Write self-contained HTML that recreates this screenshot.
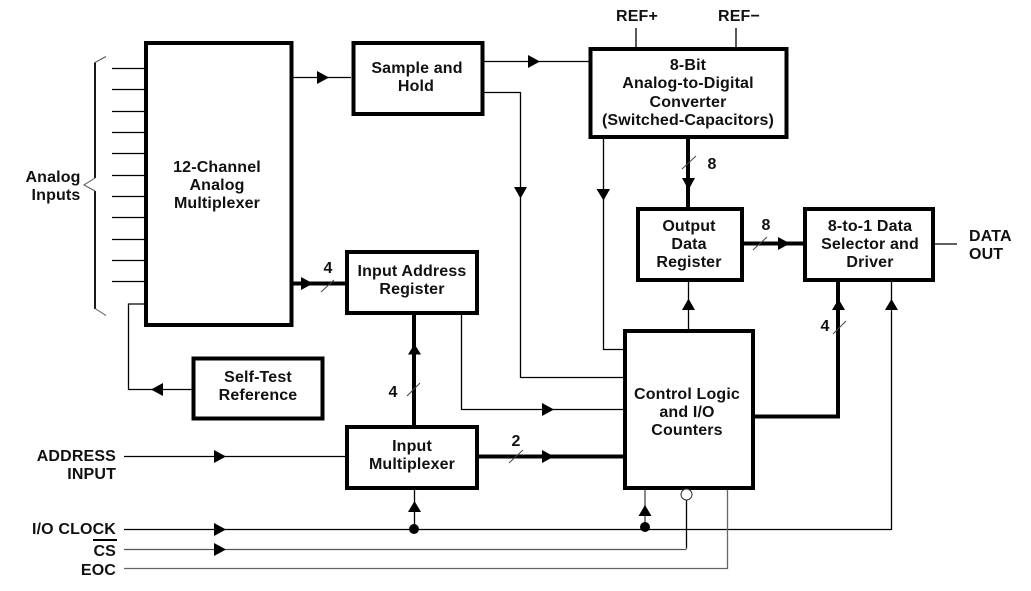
<!DOCTYPE html>
<html>
<head>
<meta charset="utf-8">
<style>
html,body{margin:0;padding:0;background:#fff}
svg{display:block}
text{font-family:"Liberation Sans",Arial,sans-serif;font-weight:bold;font-size:16px;fill:#111;letter-spacing:.15px}
.m{text-anchor:middle}
.e{text-anchor:end}
</style>
</head>
<body>
<svg width="1031" height="591" viewBox="0 0 1031 591" xmlns="http://www.w3.org/2000/svg">
<text x="231" y="-4" class="m">g</text>
<g fill="none" stroke="#000" stroke-width="1.3">
<path d="M112 68.500H146M112 89.500H146M112 111.500H146M112 132.500H146M112 153.500H146M112 175.500H146M112 196.500H146M112 217.500H146M112 239.500H146M112 260.500H146M112 281.500H146"/>
<path d="M95 62.500V178M95 191V309" stroke-width="1.8"/>
<path d="M106 56.500L95 62.500M95 178L84 185L95 191M95 308.500L106 315.500" stroke="#555" stroke-width="1"/>
<path d="M293 77.500H351"/>
<path d="M484 61.500H589"/>
<path d="M484 92.500H520.500V377.500H624"/>
<path d="M603.500 139V349.500H624"/>
<path d="M636 28V47M736 28V47"/>
<path d="M688.500 281V330"/>
<path d="M935 244H957"/>
<path d="M144 304H128.500V389.500H192"/>
<path d="M461.500 314V409.500H624"/>
<path d="M124 456.500H346"/>
<path d="M414.500 489V529"/>
<path d="M124 529.500H891.500V281"/>
<path d="M686.500 498V548.500"/>
<path d="M124 549.500H686.500" stroke="#555"/>
<path d="M124 568.500H727.500V488" stroke="#666"/>
<path d="M645 489V527" stroke="#888" stroke-width="2"/>
</g>
<g fill="none" stroke="#000" stroke-width="4">
<path d="M292 283.500H346"/>
<path d="M414 314V426"/>
<path d="M478 456.500H624"/>
<path d="M688 139V208"/>
<path d="M744 243.500H804"/>
<path d="M755 416.500H838V281"/>
</g>
<g fill="#fff" stroke="#000" stroke-width="4">
<rect x="146" y="43" width="145.500" height="282"/>
<rect x="353.500" y="43" width="129" height="71"/>
<rect x="590.500" y="49" width="196" height="88"/>
<rect x="638" y="209" width="104" height="71"/>
<rect x="805" y="209" width="128" height="71"/>
<rect x="347" y="252" width="130" height="61"/>
<rect x="193.500" y="358.500" width="129" height="60"/>
<rect x="347" y="427" width="130" height="61"/>
<rect x="625" y="331" width="128" height="157"/>
</g>
<g fill="#000">
<path d="M317 71L329 77.500L317 84Z"/>
<path d="M528 55L540 61.500L528 68Z"/>
<path d="M514 187H527L520.500 198.500Z"/>
<path d="M596.500 189H610L603.500 200.500Z"/>
<path d="M682 178H695L688.500 190Z"/>
<path d="M778 237L790 243.500L778 250Z"/>
<path d="M682 310H695L688.500 298.500Z"/>
<path d="M832 310H845L838.500 299Z"/>
<path d="M885 310H898L891.500 299Z"/>
<path d="M301 277L313 283.500L301 290Z"/>
<path d="M408 354.500H421L414.500 344Z"/>
<path d="M163 383L151 389.500L163 396Z"/>
<path d="M542 403L554 409.500L542 416Z"/>
<path d="M542 450L554 456.500L542 463Z"/>
<path d="M214 450L226 456.500L214 463Z"/>
<path d="M214 523L226 529.500L214 536Z"/>
<path d="M214 543L226 549.500L214 556Z"/>
<path d="M408 512H421L414.500 501Z"/>
<path d="M638.500 516H651.500L645 505Z"/>
<circle cx="414" cy="529" r="5"/>
<circle cx="645" cy="527" r="5"/>
</g>
<circle cx="686.500" cy="494.500" r="5.500" fill="#fff" stroke="#333" stroke-width="1"/>
<g stroke="#444" stroke-width="1" fill="none">
<path d="M321 292L334 280"/>
<path d="M407 396L420 383"/>
<path d="M509 463L523 450"/>
<path d="M682 169L696 156"/>
<path d="M753 250L767 237"/>
<path d="M833 334L846 321"/>
</g>
<rect x="93" y="539" width="24" height="2" fill="#000"/>
<text x="53" y="182" class="m">Analog</text>
<text x="56" y="200" class="m">Inputs</text>
<text x="217" y="172" class="m">12-Channel</text>
<text x="217" y="190" class="m">Analog</text>
<text x="217" y="208" class="m">Multiplexer</text>
<text x="417" y="73" class="m">Sample and</text>
<text x="416" y="91" class="m">Hold</text>
<text x="637" y="21" class="m">REF+</text>
<text x="739" y="21" class="m">REF−</text>
<text x="688" y="70" class="m">8-Bit</text>
<text x="688" y="88" class="m">Analog-to-Digital</text>
<text x="688" y="107" class="m">Converter</text>
<text x="688" y="125" class="m">(Switched-Capacitors)</text>
<text x="689" y="231" class="m">Output</text>
<text x="689" y="249" class="m">Data</text>
<text x="689" y="267" class="m">Register</text>
<text x="870" y="231" class="m">8-to-1 Data</text>
<text x="870" y="249" class="m">Selector and</text>
<text x="870" y="267" class="m">Driver</text>
<text x="969" y="241">DATA</text>
<text x="969" y="259">OUT</text>
<text x="412" y="276" class="m">Input Address</text>
<text x="412" y="294" class="m">Register</text>
<text x="258" y="382" class="m">Self-Test</text>
<text x="258" y="400" class="m">Reference</text>
<text x="412" y="451" class="m">Input</text>
<text x="412" y="469" class="m">Multiplexer</text>
<text x="687" y="399" class="m">Control Logic</text>
<text x="687" y="417" class="m">and I/O</text>
<text x="687" y="435" class="m">Counters</text>
<text x="116" y="461" class="e">ADDRESS</text>
<text x="116" y="479" class="e">INPUT</text>
<text x="116" y="534" class="e">I/O CLOCK</text>
<text x="116" y="556" class="e">CS</text>
<text x="116" y="575" class="e">EOC</text>
<text x="328" y="273" class="m">4</text>
<text x="393" y="397" class="m">4</text>
<text x="516" y="446" class="m">2</text>
<text x="712" y="169" class="m">8</text>
<text x="766" y="230" class="m">8</text>
<text x="825" y="331" class="m">4</text>
</svg>
</body>
</html>
